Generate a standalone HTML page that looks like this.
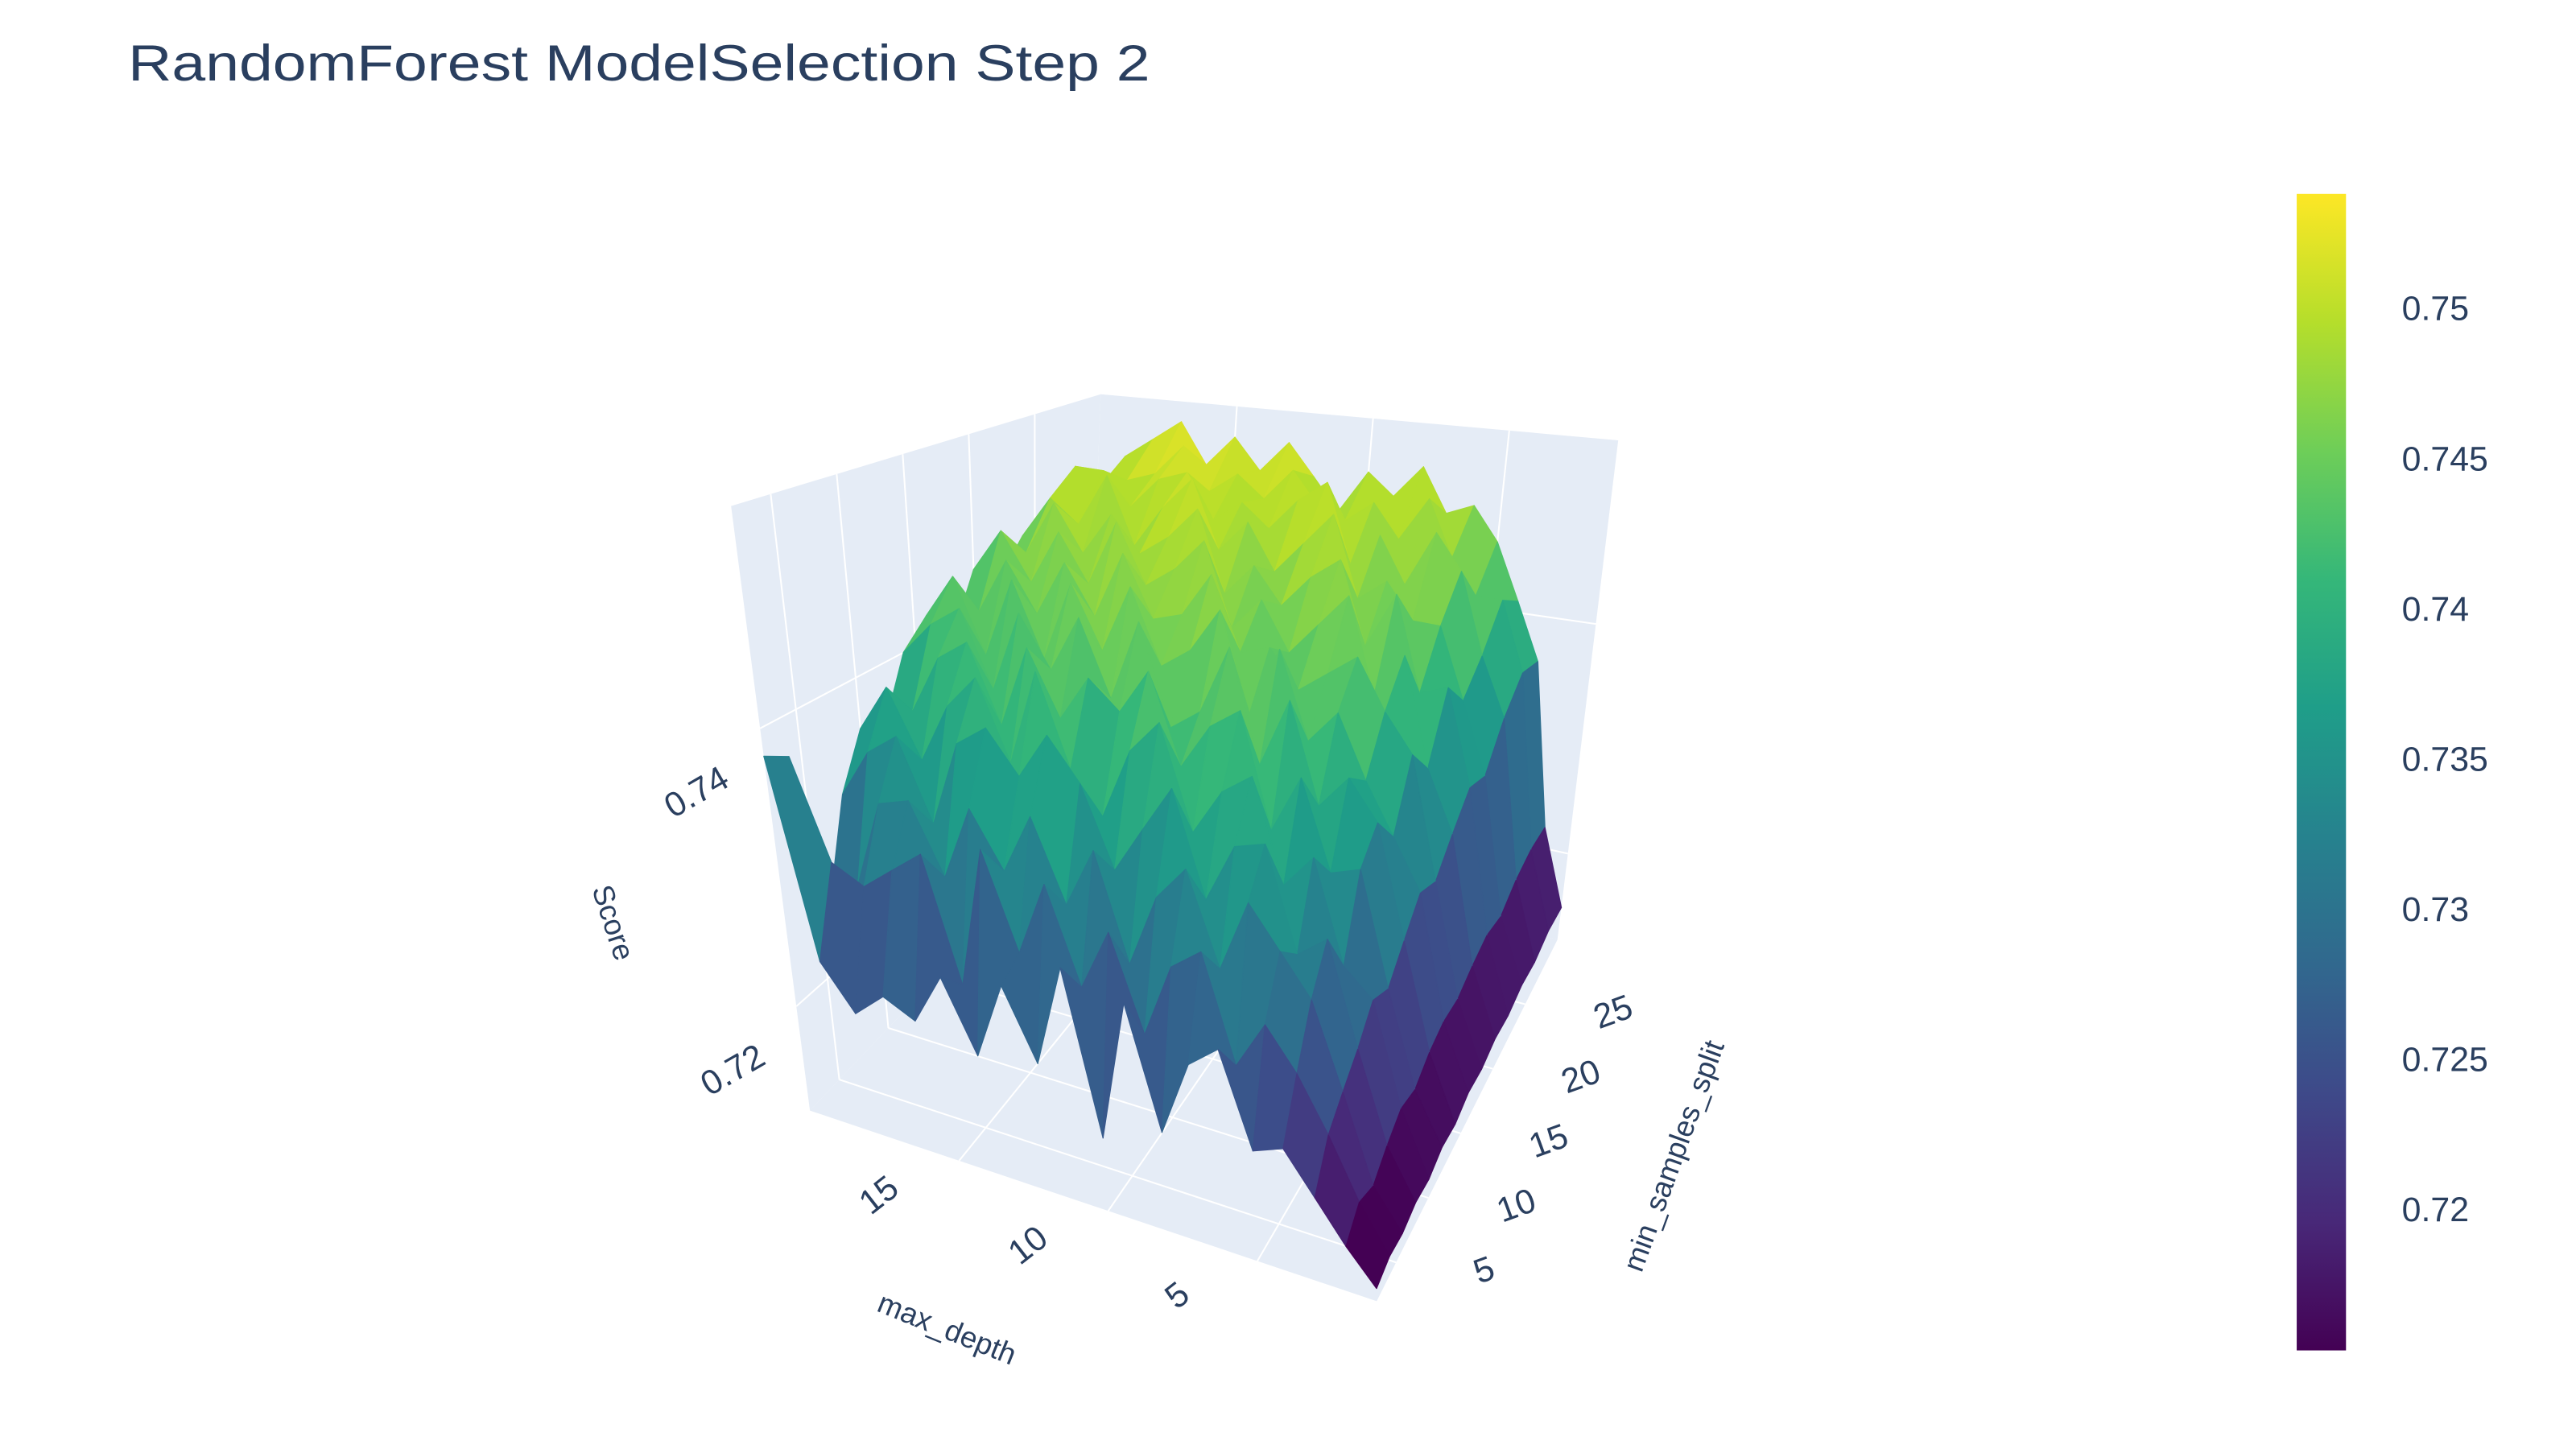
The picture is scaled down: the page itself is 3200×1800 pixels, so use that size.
<!DOCTYPE html>
<html><head><meta charset="utf-8">
<style>
html,body{margin:0;padding:0;background:#fff;}
svg{display:block;font-family:"Liberation Sans",sans-serif;}
</style></head>
<body>
<svg id="chart" width="3200" height="1800" viewBox="0 0 1568 882" xmlns="http://www.w3.org/2000/svg">
<defs>
<linearGradient id="vir" x1="0" y1="1" x2="0" y2="0">
<stop offset="0" stop-color="#440154"/><stop offset="0.111" stop-color="#482878"/><stop offset="0.222" stop-color="#3e4989"/><stop offset="0.333" stop-color="#31688e"/><stop offset="0.444" stop-color="#26828e"/><stop offset="0.556" stop-color="#1f9e89"/><stop offset="0.667" stop-color="#35b779"/><stop offset="0.778" stop-color="#6ece58"/><stop offset="0.889" stop-color="#b5de2b"/><stop offset="1" stop-color="#fde725"/>
</linearGradient>
</defs>
<text x="78" y="49" font-size="31" fill="#2a3f5f" textLength="622" lengthAdjust="spacingAndGlyphs">RandomForest ModelSelection Step 2</text>
<g id="scene"></g>
<g id="cbar"></g>
</svg>
<script>
const maxDepth=[1,2,3,4,5,6,7,8,9,10,11,12,13,14,15,16,17,18,19,20];
const minSamplesSplit=[2,4,6,8,10,12,14,16,18,20,22,24,26,28,30];
const scores=[
[0.7135,0.714,0.7138,0.7142,0.714,0.7145,0.7143,0.7148,0.7146,0.715,0.7148,0.7152,0.715,0.7155,0.7153],
[0.716,0.7175,0.7168,0.718,0.719,0.7185,0.7195,0.72,0.7198,0.7205,0.721,0.7205,0.7215,0.722,0.7218],
[0.719,0.722,0.7235,0.725,0.727,0.726,0.728,0.73,0.729,0.731,0.733,0.732,0.735,0.737,0.736],
[0.722,0.726,0.73,0.733,0.729,0.735,0.737,0.734,0.739,0.736,0.741,0.738,0.74,0.743,0.741],
[0.721,0.729,0.733,0.731,0.737,0.734,0.74,0.738,0.742,0.745,0.74,0.744,0.747,0.743,0.746],
[0.728,0.725,0.736,0.739,0.734,0.741,0.737,0.743,0.746,0.741,0.748,0.744,0.75,0.746,0.749],
[0.726,0.733,0.73,0.738,0.742,0.736,0.745,0.74,0.744,0.749,0.743,0.747,0.745,0.751,0.748],
[0.72,0.731,0.737,0.733,0.74,0.745,0.739,0.747,0.742,0.746,0.75,0.745,0.749,0.747,0.752],
[0.729,0.725,0.734,0.741,0.736,0.743,0.748,0.741,0.745,0.743,0.748,0.752,0.746,0.75,0.749],
[0.718,0.732,0.728,0.737,0.744,0.739,0.742,0.749,0.744,0.747,0.745,0.749,0.753,0.748,0.751],
[0.73,0.727,0.736,0.733,0.741,0.746,0.74,0.745,0.75,0.744,0.748,0.746,0.751,0.749,0.747],
[0.722,0.734,0.731,0.739,0.735,0.742,0.748,0.743,0.746,0.751,0.745,0.75,0.748,0.752,0.75],
[0.727,0.728,0.737,0.742,0.738,0.744,0.741,0.749,0.745,0.748,0.752,0.747,0.75,0.749,0.753],
[0.721,0.735,0.732,0.738,0.745,0.74,0.747,0.743,0.75,0.746,0.749,0.753,0.748,0.751,0.75],
[0.726,0.724,0.736,0.741,0.737,0.745,0.742,0.748,0.744,0.751,0.747,0.75,0.752,0.749,0.753],
[0.722,0.733,0.73,0.739,0.743,0.738,0.746,0.741,0.748,0.745,0.75,0.746,0.751,0.753,0.75],
[0.723,0.731,0.735,0.732,0.74,0.744,0.739,0.747,0.743,0.749,0.746,0.752,0.748,0.75,0.754],
[0.721,0.729,0.734,0.738,0.735,0.742,0.745,0.74,0.747,0.744,0.75,0.747,0.751,0.749,0.752],
[0.724,0.73,0.727,0.736,0.74,0.737,0.743,0.746,0.742,0.748,0.745,0.749,0.751,0.748,0.75],
[0.738,0.737,0.725,0.732,0.736,0.735,0.74,0.742,0.739,0.744,0.742,0.745,0.744,0.747,0.745]
];
const depthTicks=[5,10,15];
const splitTicks=[5,10,15,20,25];
const zTicks=[0.72,0.74];
const cbarTicks=[0.72,0.725,0.73,0.735,0.74,0.745,0.75];

const NS="http://www.w3.org/2000/svg";
const scene=document.getElementById('scene');
const cbar=document.getElementById('cbar');
const zMin=0.7125,zMax=0.756;
const dMin=maxDepth[0],dMax=maxDepth[maxDepth.length-1];
const sMin=minSamplesSplit[0],sMax=minSamplesSplit[minSamplesSplit.length-1];
const A=[838,792],B=[493,676],C=[948,572],D=[660,500];
const H=[833,456],E=[445,308],G=[985,268],F=[670,240];
function bil(p00,p10,p01,p11,u,v){return [
 (1-u)*(1-v)*p00[0]+u*(1-v)*p10[0]+(1-u)*v*p01[0]+u*v*p11[0],
 (1-u)*(1-v)*p00[1]+u*(1-v)*p10[1]+(1-u)*v*p01[1]+u*v*p11[1]];}
function P(u,v,w){const a=bil(A,B,C,D,u,v),b=bil(H,E,G,F,u,v);return [a[0]+(b[0]-a[0])*w,a[1]+(b[1]-a[1])*w];}
const uS=d=>(d-dMin)/(dMax-dMin);
const vS=s=>(s-sMin)/(sMax-sMin);
const wS=z=>(z-zMin)/(zMax-zMin);
const vstops=["#440154","#482878","#3e4989","#31688e","#26828e","#1f9e89","#35b779","#6ece58","#b5de2b","#fde725"];
function hex(h){return [parseInt(h.substr(1,2),16),parseInt(h.substr(3,2),16),parseInt(h.substr(5,2),16)];}
const cMin=0.7154,cMax=0.7539;
function color(z){let t=Math.max(0,Math.min(1,(z-cMin)/(cMax-cMin)))*(vstops.length-1);
 const i=Math.min(vstops.length-2,Math.floor(t)),f=t-i;const a=hex(vstops[i]),b=hex(vstops[i+1]);
 return `rgb(${Math.round(a[0]+(b[0]-a[0])*f)},${Math.round(a[1]+(b[1]-a[1])*f)},${Math.round(a[2]+(b[2]-a[2])*f)})`;}
function pts(arr){return arr.map(p=>p[0].toFixed(1)+","+p[1].toFixed(1)).join(" ");}
function poly(arr,fill,name){const e=document.createElementNS(NS,'polygon');e.setAttribute('points',pts(arr));e.setAttribute('fill',fill);
 
 
 scene.appendChild(e);return e;}
function line(p,q,name){const e=document.createElementNS(NS,'line');e.setAttribute('x1',p[0]);e.setAttribute('y1',p[1]);e.setAttribute('x2',q[0]);e.setAttribute('y2',q[1]);
 e.setAttribute('stroke','#fff');e.setAttribute('stroke-width','1');
 
 
 scene.appendChild(e);}
function text(x,y,s,size,rot,name,g){const e=document.createElementNS(NS,'text');e.setAttribute('x',x);e.setAttribute('y',y);e.setAttribute('font-size',size);
 e.setAttribute('fill','#2a3f5f');e.setAttribute('text-anchor','middle');e.setAttribute('dominant-baseline','middle');
 if(rot)e.setAttribute('transform',`rotate(${rot} ${x} ${y})`);e.textContent=s;
 
 
 (g||scene).appendChild(e);}
poly([P(0,0,0),P(1,0,0),P(1,1,0),P(0,1,0)],'#e5ecf6','floor-plane');
poly([P(1,0,0),P(1,1,0),P(1,1,1),P(1,0,1)],'#e5ecf6','left-wall');
poly([P(0,1,0),P(1,1,0),P(1,1,1),P(0,1,1)],'#e5ecf6','back-wall');
depthTicks.forEach(d=>{const u=uS(d);line(P(u,0,0),P(u,1,0),'depth-gridline');line(P(u,1,0),P(u,1,1),'depth-wall-gridline');});
splitTicks.forEach(s=>{const v=vS(s);line(P(0,v,0),P(1,v,0),'split-gridline');line(P(1,v,0),P(1,v,1),'split-wall-gridline');});
zTicks.forEach(z=>{const w=wS(z);line(P(1,0,w),P(1,1,w),'z-gridline-left');line(P(0,1,w),P(1,1,w),'z-gridline-back');});
const cells=[];
for(let i=0;i<maxDepth.length-1;i++)for(let j=0;j<minSamplesSplit.length-1;j++){
 const u0=uS(maxDepth[i]),u1=uS(maxDepth[i+1]),v0=vS(minSamplesSplit[j]),v1=vS(minSamplesSplit[j+1]);
 const z00=scores[i][j],z10=scores[i+1][j],z01=scores[i][j+1],z11=scores[i+1][j+1];
 const zm=(z00+z10+z01+z11)/4;
 const cu=(u0+u1)/2,cv=(v0+v1)/2;
 const dist=Math.hypot(cu+1.0,cv+1.3);
 cells.push({dist,zm,p:[P(u0,v0,wS(z00)),P(u1,v0,wS(z10)),P(u1,v1,wS(z11)),P(u0,v1,wS(z01))]});
}
cells.sort((a,b)=>b.dist-a.dist);
cells.forEach(c=>{const col=color(c.zm);const e=poly(c.p,col,'surface-cell');e.setAttribute('stroke',col);e.setAttribute('stroke-width','0.6');e.setAttribute('stroke-linejoin','round');});
depthTicks.forEach(d=>{const p=P(uS(d),0,0);text(p[0]-48,p[1]+22,String(d),21,-38,'max-depth-tick-label');});
splitTicks.forEach(s=>{const p=P(0,vS(s),0);text(p[0]+54,p[1]+6,String(s),21,-20,'split-tick-label');});
zTicks.forEach(z=>{const p=P(1,0,wS(z));text(p[0]-38,p[1]+40,String(z),21,-30,'score-tick-label');});
text(576,810,'max_depth',18,22,'max-depth-axis-title');
text(1020,704,'min_samples_split',18,-70,'split-axis-title');
text(372,562,'Score',18,72,'score-axis-title');
const cb=document.createElementNS(NS,'rect');cb.setAttribute('x',1398);cb.setAttribute('y',118);cb.setAttribute('width',30);cb.setAttribute('height',704);cb.setAttribute('fill','url(#vir)');


cbar.appendChild(cb);
const cy=v=>822-(v-cMin)/(cMax-cMin)*704;
cbarTicks.forEach(v=>{const t=document.createElementNS(NS,'text');t.setAttribute('x',1462);t.setAttribute('y',cy(v));t.setAttribute('font-size',21);t.setAttribute('fill','#2a3f5f');t.setAttribute('dominant-baseline','middle');t.textContent=String(v);
 
 
 cbar.appendChild(t);});
</script>
</body></html>
